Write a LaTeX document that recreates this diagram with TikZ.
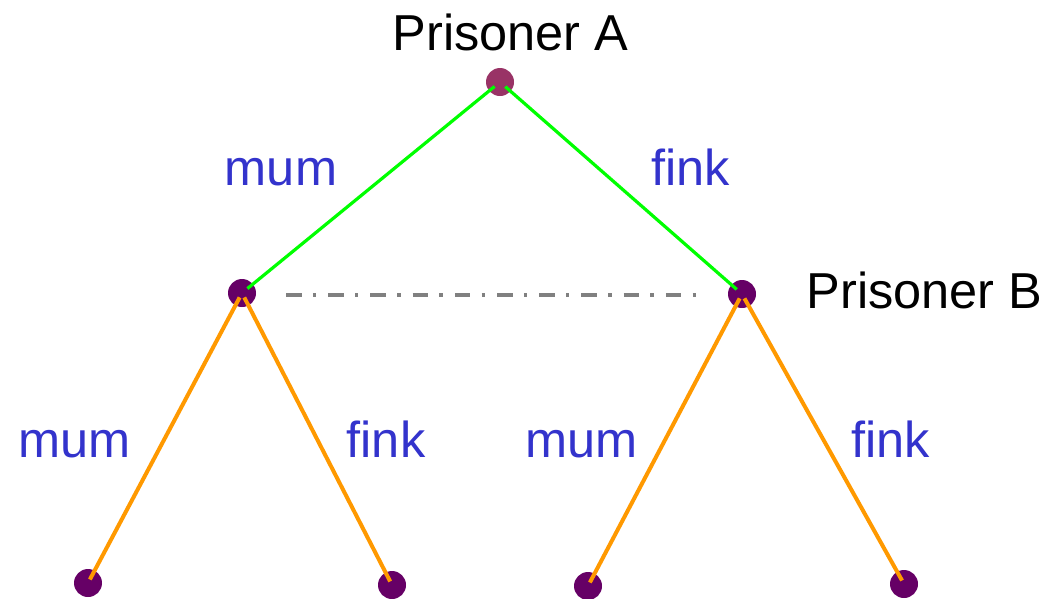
\documentclass[tikz,border=0pt]{standalone}
\usepackage{fontspec}
\setmainfont{Liberation Sans}[Ligatures=NoCommon]
\definecolor{topnode}{HTML}{993366}
\definecolor{subnode}{HTML}{660066}
\definecolor{lblue}{HTML}{3333CC}
\definecolor{lgreen}{HTML}{00FF00}
\definecolor{lorange}{HTML}{FF9900}
\definecolor{lgray}{HTML}{808080}
\tikzset{
  dot/.style={circle, inner sep=0pt, minimum size=28pt, draw=none},
  rootdot/.style={dot, fill=topnode},
  subdot/.style={dot, fill=subnode},
  player/.style={anchor=base, inner sep=0pt, text=black, font=\fontsize{50.5}{60}\selectfont},
  move/.style={anchor=base, inner sep=0pt, text=lblue, font=\fontsize{50.5}{60}\selectfont},
  firstedge/.style={draw=lgreen, line width=3.2pt, shorten <=7pt, shorten >=7pt},
  secondedge/.style={draw=lorange, line width=4pt, shorten <=5pt, shorten >=4pt},
  infoset/.style={draw=lgray, line width=4pt, dash pattern=on 15.5pt off 11.3pt on 3.4pt off 12pt}
}
\begin{document}
\begin{tikzpicture}[x=1pt, y=-1pt]
\useasboundingbox (0,0) rectangle (1045,598);
% nodes
\node[rootdot] (A) at (500,82) {};
\node[subdot] (BL) at (242,293) {};
\node[subdot] (BR) at (742,294) {};
\node[subdot] (L1) at (88,583) {};
\node[subdot] (L2) at (392,585) {};
\node[subdot] (L3) at (588,586) {};
\node[subdot] (L4) at (904,584) {};
% information set
\coordinate (d1) at (286,295);
\coordinate (d2) at (696.5,295);
\draw[infoset] (d1) -- (d2);
% edges
\draw[firstedge] (A.center) -- (BL.center);
\draw[firstedge] (A.center) -- (BR.center);
\draw[secondedge] (BL.center) -- (L1.center);
\draw[secondedge] (BL.center) -- (L2.center);
\draw[secondedge] (BR.center) -- (L3.center);
\draw[secondedge] (BR.center) -- (L4.center);
% labels
\node[player] (pa) at (510.5,50) {Prisoner A};
\node[player] (pb) at (924.5,308) {Prisoner B};
\node[move] (m1) at (281,185) {mum};
\node[move] (f1) at (690.5,185) {fink};
\node[move] (m2) at (74.5,457) {mum};
\node[move] (f2) at (386,457) {fink};
\node[move] (m3) at (581.5,457) {mum};
\node[move] (f3) at (890.5,457) {fink};
\end{tikzpicture}
\end{document}
